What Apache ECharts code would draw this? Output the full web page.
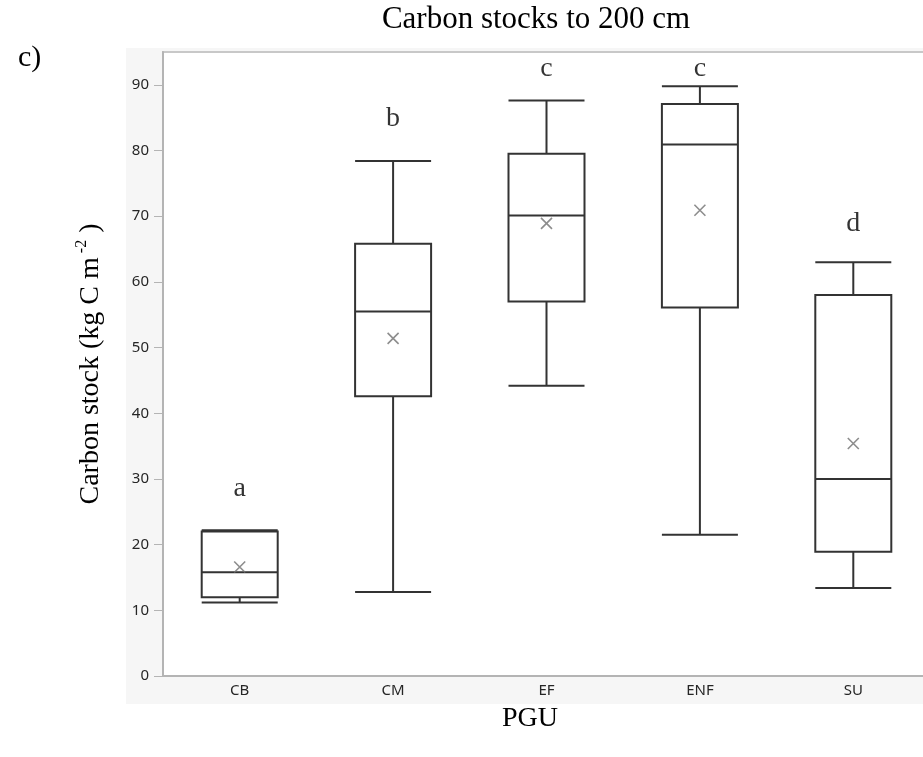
<!DOCTYPE html>
<html>
<head>
<meta charset="utf-8">
<style>
html,body{margin:0;padding:0;background:#fff;}
#chart{width:923px;height:757px;}
</style>
<script src="https://cdn.jsdelivr.net/npm/echarts@6/dist/echarts.min.js"></script>
</head>
<body>
<div id="chart"></div>
<script>
// ---- data ----
var categories = ['CB', 'CM', 'EF', 'ENF', 'SU'];
var minV    = [11.2, 12.8, 44.2, 21.5, 13.4];
var q1V     = [12.0, 42.6, 57.0, 56.1, 18.9];
var medianV = [15.8, 55.5, 70.1, 80.9, 30.0];
var q3V     = [22.0, 65.8, 79.5, 87.1, 58.0];
var maxV    = [22.2, 78.4, 87.6, 89.8, 63.0];
var meanV   = [16.6, 51.4, 68.9, 70.9, 35.4];
var letters   = ['a', 'b', 'c', 'c', 'd'];
var letterPos = [28.6, 84.8, 92.4, 92.4, 68.9];
var yTicks = [0, 10, 20, 30, 40, 50, 60, 70, 80, 90];

var boxData = categories.map(function (c, i) {
  return [minV[i], q1V[i], medianV[i], q3V[i], maxV[i]];
});
var meanData = categories.map(function (c, i) { return [c, meanV[i]]; });
var letterData = categories.map(function (c, i) { return [c, letterPos[i]]; });

var SERIF = '"Liberation Serif", "Times New Roman", serif';
var SANS = '"Noto Sans", "Open Sans", sans-serif';

var chart = echarts.init(document.getElementById('chart'), null, {renderer: 'canvas'});
chart.setOption({
  animation: false,
  backgroundColor: '#ffffff',
  graphic: [
    {type: 'rect', z: -100, silent: true,
     shape: {x: 126, y: 48, width: 797, height: 656},
     style: {fill: '#f6f6f6'}},
    {type: 'text', x: 536, y: 20, z: 10,
     style: {text: 'Carbon stocks to 200 cm', font: '31px ' + SERIF, fill: '#000',
             textAlign: 'center', textVerticalAlign: 'middle'}},
    {type: 'text', x: 18, y: 58, z: 10,
     style: {text: 'c)', font: '30px ' + SERIF, fill: '#000',
             textAlign: 'left', textVerticalAlign: 'middle'}},
    {type: 'text', x: 530, y: 719, z: 10,
     style: {text: 'PGU', font: '28px ' + SERIF, fill: '#000',
             textAlign: 'center', textVerticalAlign: 'middle'}}
  ],
  grid: {
    left: 163, right: -7, top: 52, bottom: 81,
    containLabel: false, outerBoundsMode: 'none',
    show: true, backgroundColor: '#ffffff', borderColor: '#c8c8c8', borderWidth: 2
  },
  xAxis: {
    type: 'category',
    data: categories,
    boundaryGap: true,
    axisLine: {show: true, lineStyle: {color: '#b4b4b4', width: 2}},
    axisTick: {show: false},
    axisLabel: {color: '#262626', fontFamily: SANS, fontSize: 15, margin: 7},
    splitLine: {show: false}
  },
  yAxis: {
    type: 'value',
    min: 0, max: 95, interval: 10,
    name: '{a|Carbon stock (kg C m}{s| -2}{a| )}',
    nameLocation: 'middle',
    nameRotate: 90,
    nameGap: 55,
    nameTextStyle: {
      color: '#000',
      rich: {
        a: {fontFamily: SERIF, fontSize: 28, color: '#000', lineHeight: 34},
        s: {fontFamily: SERIF, fontSize: 16, color: '#000', lineHeight: 16, verticalAlign: 'top'}
      }
    },
    axisLine: {show: true, lineStyle: {color: '#b4b4b4', width: 2}},
    axisTick: {show: true, inside: false, length: 9, customValues: yTicks,
               lineStyle: {color: '#b4b4b4', width: 1}},
    axisLabel: {color: '#262626', fontFamily: SANS, fontSize: 15, margin: 14, customValues: yTicks},
    splitLine: {show: false}
  },
  series: [
    {
      type: 'boxplot',
      data: boxData,
      boxWidth: [76, 76],
      itemStyle: {color: '#ffffff', borderColor: '#333333', borderWidth: 2},
      z: 2
    },
    {
      type: 'scatter',
      data: meanData,
      symbol: 'path://M0,0L10,10M10,0L0,10',
      symbolSize: 11,
      itemStyle: {color: 'rgba(0,0,0,0)', borderColor: '#707070', borderWidth: 1.6},
      z: 3
    },
    {
      type: 'scatter',
      data: letterData,
      symbolSize: 0,
      itemStyle: {color: 'rgba(0,0,0,0)'},
      label: {
        show: true, position: 'inside',
        formatter: function (p) { return letters[p.dataIndex]; },
        fontFamily: SERIF, fontSize: 28, color: '#000'
      },
      z: 4
    }
  ]
});
</script>
</body>
</html>
